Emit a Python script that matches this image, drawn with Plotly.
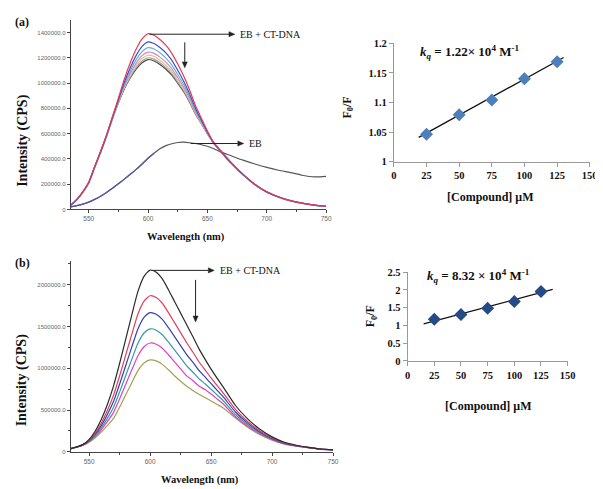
import plotly.graph_objects as go

W, H = 603, 489

# ---------------- data ----------------
wavelength = [535, 540, 545, 550, 555, 560, 565, 570, 575, 580, 585, 590, 595, 600, 605, 610,
              615, 620, 625, 630, 635, 640, 645, 650, 655, 660, 670, 680, 690, 700, 710, 720,
              730, 740, 750]

# panel (a): EB + CT-DNA with increasing compound
a_red = [35000, 80000, 140000, 215000, 340000, 460000, 590000, 735000, 880000, 1030000, 1160000,
         1270000, 1350000, 1390000, 1378000, 1345000, 1300000, 1235000, 1150000, 1055000, 945000,
         820000, 720000, 620000, 535000, 480000, 372000, 280000, 200000, 140000, 100000, 70000,
         50000, 35000, 25000]
a_blue = [35000, 79000, 139000, 213000, 337000, 456000, 585000, 727000, 868000, 1006000, 1122000,
          1219000, 1290000, 1325000, 1313000, 1282000, 1239000, 1180000, 1101000, 1015000, 914000,
          799000, 706000, 613000, 532000, 474000, 368000, 277000, 198000, 139000, 99000, 70000,
          50000, 35000, 25000]
a_cyan = [34000, 78000, 138000, 212000, 336000, 455000, 583000, 724000, 859000, 989000, 1096000,
          1185000, 1249000, 1280000, 1269000, 1239000, 1197000, 1142000, 1068000, 988000, 893000,
          784000, 697000, 608000, 531000, 473000, 367000, 276000, 198000, 138000, 99000, 69000,
          49000, 34000, 24000]
a_magenta = [34000, 78000, 138000, 211000, 334000, 453000, 581000, 722000, 853000, 976000, 1076000,
             1158000, 1217000, 1245000, 1235000, 1205000, 1165000, 1113000, 1042000, 967000, 876000,
             773000, 690000, 604000, 529000, 472000, 366000, 276000, 197000, 138000, 98000, 69000,
             49000, 34000, 24000]
a_khaki = [33000, 77000, 137000, 210000, 333000, 452000, 579000, 720000, 848000, 967000, 1061000,
           1138000, 1194000, 1220000, 1210000, 1181000, 1141000, 1092000, 1024000, 952000, 864000,
           765000, 685000, 601000, 528000, 471000, 365000, 275000, 197000, 137000, 98000, 69000,
           48000, 34000, 24000]
a_gray = [33000, 77000, 136000, 209000, 332000, 450000, 578000, 718000, 844000, 959000, 1049000,
          1122000, 1174000, 1200000, 1189000, 1161000, 1122000, 1074000, 1008000, 939000, 854000,
          758000, 681000, 599000, 528000, 471000, 365000, 275000, 196000, 137000, 98000, 68000,
          48000, 34000, 24000]
a_dark = [33000, 76000, 136000, 208000, 330000, 448000, 576000, 716000, 841000, 954000, 1041000,
          1111000, 1161000, 1186000, 1175000, 1147000, 1109000, 1062000, 998000, 931000, 848000,
          754000, 678000, 597000, 527000, 470000, 364000, 274000, 196000, 137000, 97000, 68000,
          48000, 34000, 24000]
a_eb = [20000, 30000, 42000, 58000, 80000, 105000, 135000, 168000, 203000, 240000, 278000, 317000,
        360000, 405000, 445000, 480000, 505000, 520000, 530000, 532000, 528000, 522000, 512000,
        500000, 482000, 460000, 425000, 390000, 360000, 333000, 310000, 292000, 271000, 258000,
        262000]

# panel (b)
b_black = [40000, 60000, 90000, 150000, 250000, 390000, 570000, 790000, 1060000, 1350000, 1640000,
           1920000, 2100000, 2175000, 2150000, 2070000, 1940000, 1800000, 1660000, 1520000, 1380000,
           1235000, 1110000, 990000, 880000, 775000, 555000, 395000, 270000, 180000, 115000, 80000,
           55000, 35000, 25000]
b_red = [40000, 59000, 87000, 140000, 227000, 346000, 498000, 679000, 911000, 1160000, 1409000,
         1649000, 1804000, 1868000, 1847000, 1778000, 1666000, 1546000, 1426000, 1306000, 1195000,
         1078000, 982000, 885000, 793000, 704000, 508000, 364000, 251000, 169000, 109000, 77000,
         53000, 35000, 25000]
b_blue = [40000, 59000, 85000, 134000, 212000, 317000, 450000, 605000, 812000, 1034000, 1256000,
          1471000, 1609000, 1666000, 1647000, 1586000, 1486000, 1379000, 1272000, 1164000, 1073000,
          975000, 897000, 816000, 736000, 657000, 477000, 344000, 238000, 161000, 105000, 74000,
          52000, 34000, 25000]
b_teal = [40000, 58000, 83000, 128000, 198000, 289000, 404000, 535000, 718000, 914000, 1110000,
          1300000, 1422000, 1472000, 1456000, 1401000, 1313000, 1219000, 1124000, 1029000, 956000,
          876000, 816000, 750000, 681000, 612000, 447000, 325000, 226000, 154000, 101000, 72000,
          51000, 34000, 25000]
b_magenta = [40000, 58000, 81000, 123000, 185000, 265000, 364000, 473000, 635000, 809000, 982000,
             1150000, 1258000, 1303000, 1288000, 1240000, 1162000, 1078000, 994000, 910000, 854000,
             789000, 745000, 692000, 633000, 573000, 421000, 308000, 216000, 147000, 97000, 70000,
             51000, 34000, 25000]
b_olive = [40000, 57000, 79000, 117000, 170000, 236000, 317000, 400000, 536000, 683000, 830000,
           972000, 1063000, 1100000, 1088000, 1047000, 982000, 911000, 845000, 785000, 735000,
           690000, 650000, 610000, 568000, 525000, 405000, 295000, 205000, 140000, 93000, 68000,
           50000, 33000, 25000]

# Stern-Volmer plots
compound = [25, 50, 75, 100, 125]
a_f0f = [1.046, 1.079, 1.104, 1.140, 1.169]
a_fit_x = [19, 130]
a_fit_y = [1.041, 1.176]
b_f0f = [1.17, 1.31, 1.48, 1.67, 1.95]
b_fit_x = [15, 136]
b_fit_y = [1.04, 2.01]

wl_ticks = [550, 600, 650, 700, 750]
a_yticks = [0, 200000, 400000, 600000, 800000, 1000000, 1200000, 1400000]
a_ylabels = ["0", "200000.0", "400000.0", "600000.0", "800000.0", "1000000.0", "1200000.0", "1400000.0"]
b_yticks = [0, 500000, 1000000, 1500000, 2000000]
b_ylabels = ["0", "500000.0", "1000000.0", "1500000.0", "2000000.0"]
sv_xticks = [0, 25, 50, 75, 100, 125, 150]
a_sv_yticks = [1, 1.05, 1.1, 1.15, 1.2]
a_sv_ylabels = ["1", "1.05", "1.1", "1.15", "1.2"]
b_sv_yticks = [0, 0.5, 1, 1.5, 2, 2.5]
b_sv_ylabels = ["0", "0.5", "1", "1.5", "2", "2.5"]

# ---------------- helpers ----------------
def px(x):
    return x / W

def py(y):
    return 1 - y / H

SERIF = "Liberation Serif"
SANS = "Liberation Sans"

fig = go.Figure()

def line(xs, ys, color, xa, ya, width=1.2):
    fig.add_trace(go.Scatter(x=xs, y=ys, mode="lines", line=dict(color=color, width=width, shape="spline", smoothing=0.6),
                             xaxis=xa, yaxis=ya, showlegend=False, hoverinfo="skip"))

# panel (a) spectra
line(wavelength, a_eb, "#555555", "x", "y")
line(wavelength[:15], a_eb[:15], "#5a55a8", "x", "y")
for ys, c in [(a_dark, "#4a4a4a"), (a_gray, "#a0a0a0"), (a_khaki, "#d8cc7a"), (a_magenta, "#e27ad6"),
              (a_cyan, "#5fb4d2"), (a_blue, "#3c4fc6"), (a_red, "#e43c55")]:
    line(wavelength, ys, c, "x", "y")

# panel (b) spectra
for ys, c in [(b_olive, "#a89e52"), (b_magenta, "#e040c4"), (b_teal, "#3a98a6"), (b_blue, "#3440b2"),
              (b_red, "#e2405a"), (b_black, "#2b2b2b")]:
    line(wavelength, ys, c, "x2", "y2")

# Stern-Volmer
fig.add_trace(go.Scatter(x=a_fit_x, y=a_fit_y, mode="lines", line=dict(color="#111", width=1.3),
                         xaxis="x3", yaxis="y3", showlegend=False))
fig.add_trace(go.Scatter(x=compound, y=a_f0f, mode="markers",
                         marker=dict(symbol="diamond", size=10, color="#4f7fba"),
                         xaxis="x3", yaxis="y3", showlegend=False))
fig.add_trace(go.Scatter(x=b_fit_x, y=b_fit_y, mode="lines", line=dict(color="#111", width=1.3),
                         xaxis="x4", yaxis="y4", showlegend=False))
fig.add_trace(go.Scatter(x=compound, y=b_f0f, mode="markers",
                         marker=dict(symbol="diamond", size=10, color="#254a88"),
                         xaxis="x4", yaxis="y4", showlegend=False))

spec_x = dict(range=[535, 750], tickvals=wl_ticks, ticks="outside", ticklen=3, tickcolor="#444",
              showline=True, linecolor="#444", linewidth=1, showgrid=False, zeroline=False,
              tickfont=dict(family=SANS, size=6.5, color="#666"),
              minor=dict(ticks="outside", ticklen=2, tickcolor="#444", dtick=25, tick0=550))
spec_y = dict(ticks="outside", ticklen=3, tickcolor="#444", showline=True, linecolor="#444",
              linewidth=1, showgrid=False, zeroline=False,
              tickfont=dict(family=SANS, size=6, color="#666"))
sv_x = dict(range=[0, 150], tickvals=sv_xticks, ticks="outside", ticklen=4, tickcolor="#999",
            showline=True, linecolor="#999", linewidth=1, showgrid=False, zeroline=False,
            tickfont=dict(family=SERIF, size=10.5, color="#111", weight="bold"))
sv_y = dict(ticks="outside", ticklen=4, tickcolor="#999", showline=True, linecolor="#999",
            linewidth=1, showgrid=False, zeroline=False,
            tickfont=dict(family=SERIF, size=10.5, color="#111", weight="bold"))

fig.update_layout(
    width=W, height=H, margin=dict(l=0, r=0, t=0, b=0),
    paper_bgcolor="white", plot_bgcolor="white",
    xaxis=dict(domain=[px(61), px(321)], anchor="y", **spec_x),
    yaxis=dict(domain=[py(201), py(7)], anchor="x", range=[0, 1500000],
               tickvals=a_yticks, ticktext=a_ylabels, **spec_y),
    xaxis2=dict(domain=[px(61), px(328)], anchor="y2", **spec_x),
    yaxis2=dict(domain=[py(449), py(254)], anchor="x2", range=[0, 2280000],
                tickvals=b_yticks, ticktext=b_ylabels,
                minor=dict(ticks="outside", ticklen=2, tickcolor="#444", dtick=250000, tick0=0), **spec_y),
    xaxis3=dict(domain=[px(390), px(589.5)], anchor="y3", **sv_x),
    yaxis3=dict(domain=[py(152), py(31)], anchor="x3", range=[1, 1.2],
                tickvals=a_sv_yticks, ticktext=a_sv_ylabels, **sv_y),
    xaxis4=dict(domain=[px(404), px(567)], anchor="y4", **sv_x),
    yaxis4=dict(domain=[py(356), py(265)], anchor="x4", range=[0, 2.5],
                tickvals=b_sv_yticks, ticktext=b_sv_ylabels, **sv_y),
)

def text(x, y, s, size=10, bold=False, angle=0, xanchor="center", color="#111"):
    fig.add_annotation(x=px(x), y=py(y), xref="paper", yref="paper", text=s, showarrow=False,
                       xanchor=xanchor, yanchor="middle", textangle=angle,
                       font=dict(family=SERIF, size=size, color=color, weight="bold" if bold else "normal"))

def arrow(x0, y0, x1, y1, head=6, half=2.6):
    # shaft
    dx, dy = x1 - x0, y1 - y0
    L = (dx * dx + dy * dy) ** 0.5
    ux, uy = dx / L, dy / L
    bx, by = x1 - ux * head, y1 - uy * head
    fig.add_shape(type="line", xref="paper", yref="paper",
                  x0=px(x0), y0=py(y0), x1=px(bx), y1=py(by),
                  line=dict(color="#222", width=1))
    # head
    nx, ny = -uy, ux
    pts = [(x1, y1), (bx + nx * half, by + ny * half), (bx - nx * half, by - ny * half)]
    path = "M " + " L ".join(f"{px(a):.5f},{py(b):.5f}" for a, b in pts) + " Z"
    fig.add_shape(type="path", xref="paper", yref="paper", path=path,
                  fillcolor="#222", line=dict(color="#222", width=0.5))

# panel labels
text(2, 9, "(a)", 12, True, xanchor="left")
text(2, 256, "(b)", 12, True, xanchor="left")

# axis titles
text(12, 130, "Intensity (CPS)", 14, True, angle=-90)
text(11, 375, "Intensity (CPS)", 14, True, angle=-90)
text(178, 229, "Wavelength (nm)", 10.5, True)
text(193, 478, "Wavelength (nm)", 10.5, True)
text(343, 97, "F<sub>0</sub>/F", 12, True, angle=-90)
text(367, 310, "F<sub>0</sub>/F", 12, True, angle=-90)
text(488, 188, "[Compound] μM", 12, True)
text(486, 402, "[Compound] μM", 12, True)

# constants
text(415, 40, "<i>k<sub>q</sub></i> = 1.22× 10<sup>4</sup> M<sup>-1</sup>", 13, True, xanchor="left")
text(422, 269, "<i>k<sub>q</sub></i> = 8.32 × 10<sup>4</sup> M<sup>-1</sup>", 13, True, xanchor="left")

# arrows and labels on spectra
arrow(141, 21.7, 228, 21.7)
text(231, 22, "EB + CT-DNA", 10, xanchor="left")
arrow(177, 30, 177, 56)
arrow(183, 133.5, 237, 133.5)
text(240, 133.5, "EB", 10, xanchor="left")
arrow(143, 263.3, 207, 263.3)
text(211, 263.5, "EB + CT-DNA", 10, xanchor="left")
arrow(188, 273, 188, 316)

fig.write_html("out.html")
